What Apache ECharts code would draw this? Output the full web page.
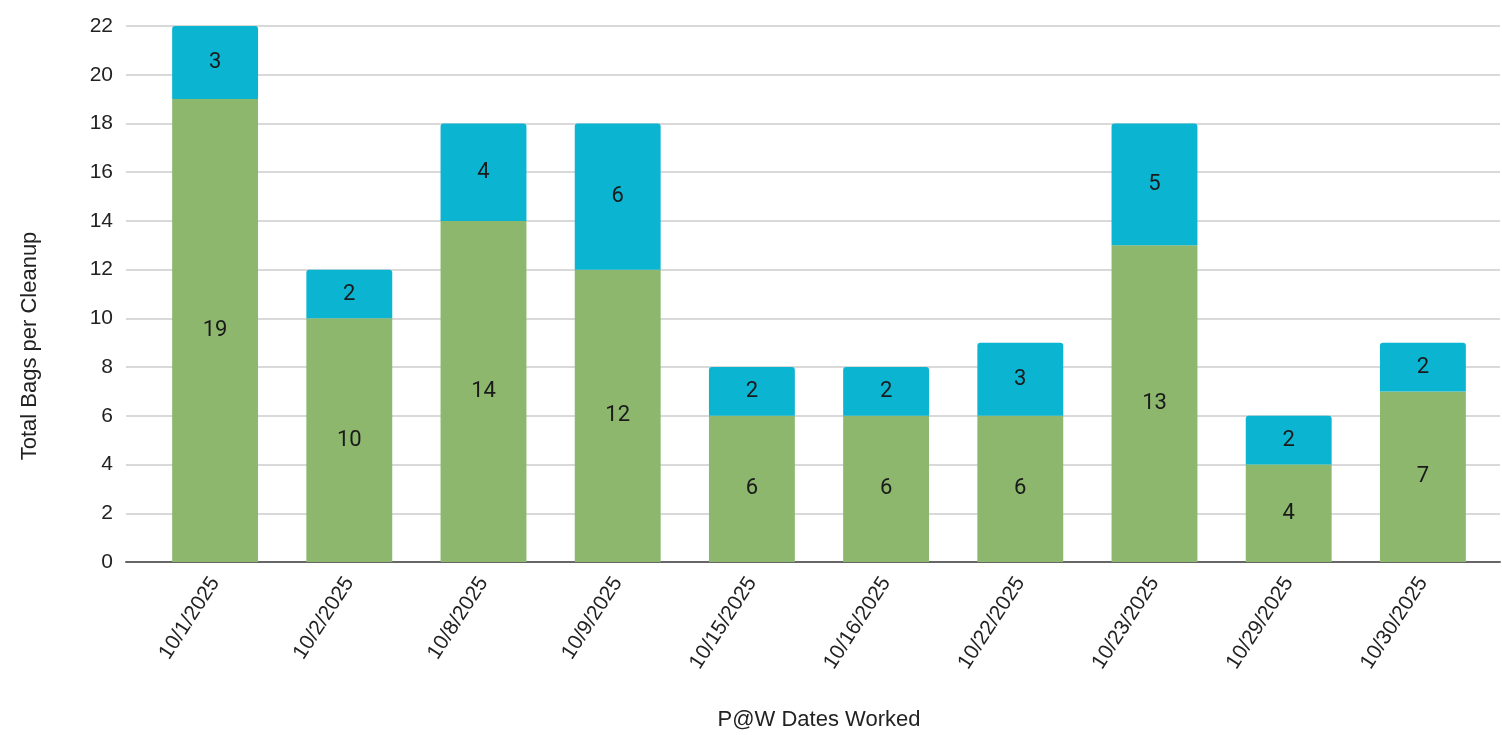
<!DOCTYPE html>
<html>
<head>
<meta charset="utf-8">
<script src="https://cdn.jsdelivr.net/npm/echarts@6/dist/echarts.min.js"></script>
<style>html,body{margin:0;padding:0;background:#fff}#c{width:1502px;height:735px}</style>
</head>
<body>
<div id="c"></div>
<script>
const dates = ['10/1/2025','10/2/2025','10/8/2025','10/9/2025','10/15/2025','10/16/2025','10/22/2025','10/23/2025','10/29/2025','10/30/2025'];
const lowerValues = [19, 10, 14, 12, 6, 6, 6, 13, 4, 7];
const upperValues = [3, 2, 4, 6, 2, 2, 3, 5, 2, 2];
const yTicks = {min: 0, max: 22, interval: 2};
const xTitle = 'P@W Dates Worked';
const yTitle = 'Total Bags per Cleanup';

const chart = echarts.init(document.getElementById('c'));
const labelFont = {fontFamily: 'Roboto', fontSize: 22, color: '#1a1a1a'};
chart.setOption({
  animation: false,
  grid: [
    {left: 126, right: 2, top: 26, bottom: 173},
    {left: 148, right: 12, top: 26, bottom: 173}
  ],
  xAxis: [
    {gridIndex: 0, type: 'value', min: 0, max: 1,
     axisLine: {show: true, lineStyle: {color: '#666', width: 2}},
     axisTick: {show: false}, axisLabel: {show: false}, splitLine: {show: false}},
    {gridIndex: 1, type: 'category', data: dates,
     axisLine: {show: false}, axisTick: {show: false},
     axisLabel: {rotate: 57, margin: 17, fontFamily: 'Liberation Sans', fontSize: 21, color: '#222'}}
  ],
  yAxis: [
    {gridIndex: 0, type: 'value', min: yTicks.min, max: yTicks.max, interval: yTicks.interval,
     axisLine: {show: false}, axisTick: {show: false},
     axisLabel: {margin: 13, fontFamily: 'Liberation Sans', fontSize: 21, color: '#222'},
     splitLine: {lineStyle: {color: '#d9d9d9', width: 2}}},
    {gridIndex: 1, type: 'value', min: yTicks.min, max: yTicks.max, interval: yTicks.interval, show: false}
  ],
  series: [
    {type: 'bar', xAxisIndex: 1, yAxisIndex: 1, stack: 'bags', data: lowerValues,
     barCategoryGap: '36%', itemStyle: {color: '#8cb76d'},
     label: Object.assign({show: true, position: 'inside'}, labelFont)},
    {type: 'bar', xAxisIndex: 1, yAxisIndex: 1, stack: 'bags', data: upperValues,
     barCategoryGap: '36%', itemStyle: {color: '#0bb4d1', borderRadius: [3,3,0,0]},
     label: Object.assign({show: true, position: 'inside'}, labelFont)}
  ],
  graphic: [
    {type: 'text', x: 819, y: 720, style: {text: xTitle, font: '22px "Liberation Sans"', fill: '#222', align: 'center', verticalAlign: 'middle'}},
    {type: 'text', x: 30, y: 346, rotation: Math.PI/2, style: {text: yTitle, font: '22px "Liberation Sans"', fill: '#222', align: 'center', verticalAlign: 'middle'}}
  ]
});
</script>
</body>
</html>
